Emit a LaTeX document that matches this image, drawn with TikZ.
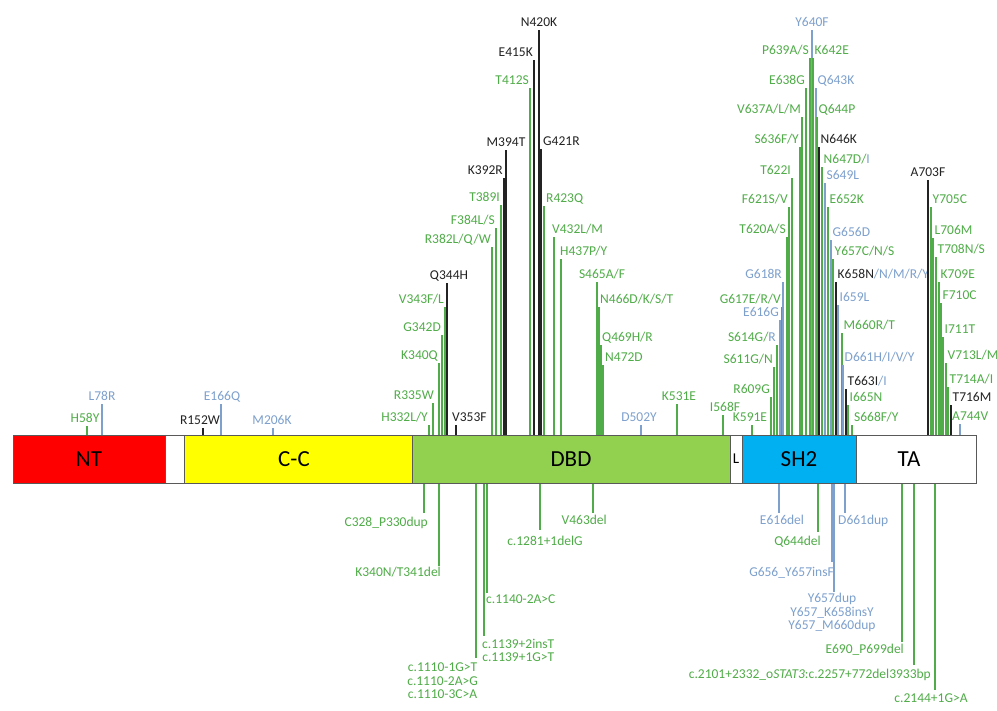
\documentclass[tikz,border=0pt]{standalone}
\usepackage{fontspec}
\setmainfont{Carlito}
\definecolor{mg}{RGB}{80,172,72}
\definecolor{mb}{RGB}{125,160,205}
\definecolor{mk}{RGB}{35,35,35}
\definecolor{ntred}{RGB}{255,0,0}
\definecolor{ccyel}{RGB}{255,255,0}
\definecolor{dbdg}{RGB}{146,208,80}
\definecolor{sh2b}{RGB}{0,176,240}
\tikzset{
  mline/.style={line width=2.4pt},
  lab/.style={inner sep=0pt, font=\fontsize{13.5}{13.5}\selectfont},
  dombox/.style={draw=black!65, line width=0.8pt},
  domlab/.style={inner sep=0pt, font=\fontsize{23}{23}\selectfont, text=black}
}
\newcommand\mut[7]{%
  \coordinate (#1b) at (#2,435);
  \coordinate (#1t) at (#2,#3);
  \draw[mline,draw=#4] (#1b) -- (#1t);
  \node[lab,text=#4,anchor=#5] (#1) at ({#2+#6},{#3-3}) {#7};
}
\newcommand\dn[8]{%
  \coordinate (#1b) at (#2,483);
  \coordinate (#1t) at (#2,#3);
  \draw[mline,draw=#4] (#1b) -- (#1t);
  \node[lab,text=#4,anchor=#5,align=center] (#1) at (#6,#7) {#8};
}
\begin{document}
\begin{tikzpicture}[x=1pt,y=-1pt]
\fill[white] (0,0) rectangle (997,711);
\useasboundingbox (0,0) rectangle (997,711);

% ---- upper mutations: N-terminal / coiled-coil
\mut{h58}{87}{426}{mg}{base}{-2}{H58Y}
\mut{l78}{102}{404}{mb}{base}{0}{L78R}
\mut{r152}{203}{428}{mk}{base}{-3}{R152W}
\mut{e166}{221}{404}{mb}{base}{1}{E166Q}
\mut{m206}{273}{428}{mb}{base}{-1}{M206K}

% ---- DBD
\mut{h332}{429}{425}{mg}{base east}{-1}{H332L/Y}
\mut{r335}{433}{403}{mg}{base east}{1}{R335W}
\mut{k340}{439}{363}{mg}{base east}{-1}{K340Q}
\mut{g342}{442}{335}{mg}{base east}{-1}{G342D}
\mut{v343}{445}{307}{mg}{base east}{-1}{V343F/L}
\mut{q344}{447}{283}{mk}{base}{2}{Q344H}
\mut{v353}{456}{425}{mk}{base west}{-4}{V353F}
\mut{r382}{492}{247}{mg}{base east}{-1}{R382L/Q/W}
\mut{f384}{496}{228}{mg}{base east}{-1}{F384L/S}
\mut{t389}{501}{205}{mg}{base east}{-1}{T389I}
\mut{k392}{504}{178}{mk}{base east}{-1}{K392R}
\mut{m394}{506}{150}{mk}{base}{0}{M394T}
\mut{t412}{530}{88}{mg}{base east}{-1}{T412S}
\mut{e415}{534}{60}{mk}{base east}{-1}{E415K}
\mut{n420}{539}{30}{mk}{base}{0}{N420K}
\mut{g421}{541}{149}{mk}{base west}{2}{G421R}
\mut{r423}{544}{206}{mg}{base west}{2}{R423Q}
\mut{v432}{554}{237}{mg}{base west}{-2}{V432L/M}
\mut{h437}{561}{259}{mg}{base west}{-1}{H437P/Y}
\mut{s465}{597}{282}{mg}{base}{5}{S465A/F}
\mut{n466}{599}{307}{mg}{base west}{1}{N466D/K/S/T}
\mut{q469}{601}{345}{mg}{base west}{1}{Q469H/R}
\mut{n472}{603}{365}{mg}{base west}{2}{N472D}
\mut{d502}{641}{425}{mb}{base}{-2}{D502Y}
\mut{k531}{677}{404}{mg}{base}{2}{K531E}
\mut{i568}{723}{415}{mg}{base}{2}{I568F}
\mut{k591}{752}{425}{mg}{base}{-2}{K591E}

% ---- SH2
\mut{r609}{771}{397}{mg}{base east}{-1}{R609G}
\mut{s611}{774}{367}{mg}{base east}{-1}{S611G/N}
\mut{s614}{777}{345}{mg}{base east}{-1}{S614G/\textcolor{mb}{R}}
\mut{e616}{780}{320}{mb}{base east}{-1}{E616G}
\mut{g617}{782}{307}{mg}{base east}{-1}{G617E/R/V}
\mut{g618}{783}{282}{mb}{base east}{-1}{G618R}
\mut{t620}{787}{237}{mg}{base east}{-1}{T620A/S}
\mut{f621}{789}{207}{mg}{base east}{-1}{F621S/V}
\mut{t622}{792}{178}{mg}{base east}{-1}{T622I}
\mut{s636}{800}{147}{mg}{base east}{-1}{S636F/Y}
\mut{v637}{802}{117}{mg}{base east}{-1}{V637A/L/M}
\mut{e638}{806}{88}{mg}{base east}{-1}{E638G}
\mut{p639}{810}{58}{mg}{base east}{-1}{P639A/S}
\mut{y640}{812}{30}{mb}{base}{0}{Y640F}
\mut{k642}{813}{58}{mg}{base west}{1.5}{K642E}
\mut{q643}{816}{88}{mb}{base west}{1.5}{Q643K}
\mut{q644}{817}{117}{mg}{base west}{1.5}{Q644P}
\mut{n646}{819}{147}{mk}{base west}{1.5}{N646K}
\mut{n647}{822}{167}{mg}{base west}{1.5}{N647D/\textcolor{mb}{I}}
\mut{s649}{825}{183}{mb}{base west}{1.5}{S649L}
\mut{e652}{828}{207}{mg}{base west}{1.5}{E652K}
\mut{g656}{831}{240}{mb}{base west}{1.5}{G656D}
\mut{y657}{833}{259}{mg}{base west}{1.5}{Y657C/N/S}
\mut{k658}{836}{282}{mk}{base west}{1.5}{K658N\textcolor{mb}{/N/M/R/Y}}
\mut{i659}{838}{305}{mb}{base west}{1.5}{I659L}
\mut{m660}{842}{333}{mg}{base west}{1.5}{M660R/T}
\mut{d661}{843}{365}{mb}{base west}{1.5}{D661H/I/V/Y}
\mut{t663}{846}{389}{mk}{base west}{1.5}{T663I\textcolor{mb}{/I}}
\mut{i665}{848}{405}{mg}{base west}{1.5}{I665N}
\mut{s668}{852}{425}{mg}{base west}{2}{S668F/Y}

% ---- TA
\mut{a703}{928}{180}{mk}{base}{0}{A703F}
\mut{y705}{931}{207}{mg}{base west}{1.5}{Y705C}
\mut{l706}{933}{238}{mg}{base west}{1.5}{L706M}
\mut{t708}{936}{257}{mg}{base west}{1.5}{T708N/S}
\mut{k709}{939}{282}{mg}{base west}{1.5}{K709E}
\mut{f710}{941}{303}{mg}{base west}{1.5}{F710C}
\mut{i711}{943}{337}{mg}{base west}{1.5}{I711T}
\mut{v713}{946}{363}{mg}{base west}{1.5}{V713L/M}
\mut{t714}{948}{387}{mg}{base west}{1.5}{T714A/I}
\mut{t716}{951}{405}{mk}{base west}{1.5}{T716M}
\mut{a744}{960}{424}{mb}{base west}{-8}{\textcolor{mg}{A744V}}

% ---- lower mutations
\dn{c328}{424}{513}{mg}{base east}{428}{526}{C328\_P330dup}
\dn{k340n}{439}{566}{mg}{base east}{441}{576}{K340N/T341del}
\dn{c1110}{476}{658}{mg}{north east}{478}{663}{c.1110-1G>T\\c.1110-2A>G\\c.1110-3C>A}
\dn{c1139}{484}{636}{mg}{north west}{482}{639}{c.1139+2insT\\c.1139+1G>T}
\dn{c1140}{487}{593}{mg}{north west}{486}{595}{c.1140-2A>C}
\dn{c1281}{540}{530}{mg}{base}{545}{545}{c.1281+1delG}
\dn{v463}{593}{513}{mg}{base east}{607}{525}{V463del}
\dn{e616d}{779}{513}{mb}{base}{782}{525}{E616del}
\dn{q644d}{818}{532}{mg}{base east}{821}{545}{Q644del}
\dn{d661d}{845}{513}{mb}{base west}{838}{525}{D661dup}
\dn{g656i}{832}{562}{mb}{base east}{834}{576}{G656\_Y657insF}
\dn{y657d}{834}{592}{mb}{north}{832}{593}{Y657dup\\Y657\_K658insY\\Y657\_M660dup}
\dn{e690}{902}{642}{mg}{base east}{904}{653}{E690\_P699del}
\dn{c2101}{914}{665}{mg}{base east}{931}{678}{c.2101+2332\_o\textit{STAT3}:c.2257+772del3933bp}
\dn{c2144}{935}{690}{mg}{base}{931}{702}{c.2144+1G>A}

% ---- domain bar
\fill[ntred] (13,435) rectangle (165,483);
\fill[white] (165,435) rectangle (184,483);
\fill[ccyel] (184,435) rectangle (412,483);
\fill[dbdg] (412,435) rectangle (730,483);
\fill[white] (730,435) rectangle (742,483);
\fill[sh2b] (742,435) rectangle (856,483);
\fill[white] (856,435) rectangle (976,483);
\draw[dombox] (13,435) rectangle (976,483);
\draw[dombox] (165,435) -- (165,483);
\draw[dombox] (184,435) -- (184,483);
\draw[dombox] (412,435) -- (412,483);
\draw[dombox] (730,435) -- (730,483);
\draw[dombox] (742,435) -- (742,483);
\draw[dombox] (856,435) -- (856,483);
\node[domlab] (nt) at (89,459) {NT};
\node[domlab] (cc) at (294,459) {C-C};
\node[domlab] (dbd) at (571,459) {DBD};
\node[inner sep=0pt,font=\fontsize{15}{15}\selectfont] (lk) at (736,459) {L};
\node[domlab] (sh2) at (799,459) {SH2};
\node[domlab] (ta) at (909,459) {TA};
\end{tikzpicture}
\end{document}
